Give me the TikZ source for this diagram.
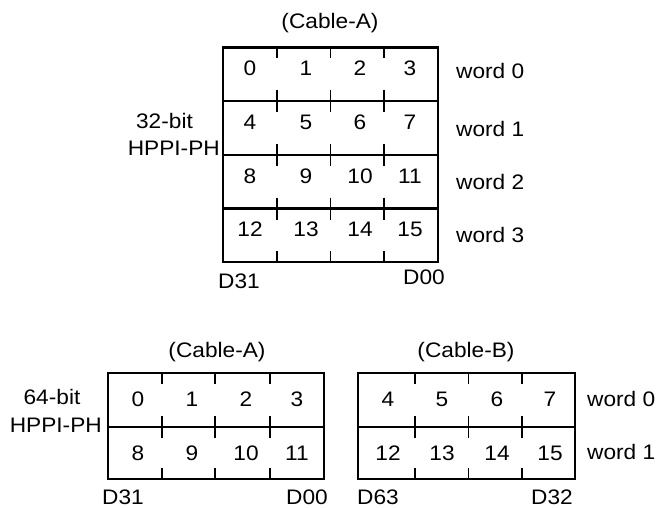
\documentclass[tikz,border=0pt]{standalone}
\usepackage{fontspec}
\setmainfont{Liberation Sans}[FakeStretch=1.08]
\begin{document}
\begin{tikzpicture}[x=1pt,y=-1pt,
  frame/.style={line width=2.2pt},
  tickmark/.style={line width=1.8pt},
  lbl/.style={inner sep=0pt, font=\fontsize{21}{25}\selectfont},
]
\useasboundingbox (0,0) rectangle (658,508);

% ---------- top: 32-bit ----------
\draw[frame] (223,47.5) rectangle (438,262);
\foreach \y in {101,155,208.5} \draw[frame] (223,\y) -- (438,\y);
\foreach \x in {277,330.5,384} {
  \draw[tickmark] (\x,47.5) -- ++(0,11);
  \foreach \y in {101,155,208.5} \draw[tickmark] (\x,\y-11) -- (\x,\y+11);
  \draw[tickmark] (\x,262) -- ++(0,-11);
}
\foreach \r/\yy in {0/68,1/122,2/176,3/229}
  \foreach \c/\xx in {0/250,1/306,2/360,3/410} {
    \pgfmathtruncatemacro\n{4*\r+\c}
    \node[lbl] (t\n) at (\xx,\yy) {\n};
  }
\node[lbl] (cabA1) at (330,23) {(Cable-A)};
\foreach \r/\yy in {0/71,1/129,2/182,3/235}
  \node[lbl,anchor=west] (tw\r) at (456,\yy) {word \r};
\node[lbl] (bits32) at (164.5,121) {32-bit};
\node[lbl,anchor=east] (hppi1) at (220,148) {HPPI-PH};
\node[lbl,anchor=west] (tD31) at (218,281) {D31};
\node[lbl,anchor=east] (tD00) at (445,277) {D00};

% ---------- bottom: 64-bit ----------
\draw[frame] (108,373) rectangle (324,479);
\draw[frame] (108,427) -- (324,427);
\draw[frame] (358,373) rectangle (575,479);
\draw[frame] (358,427) -- (575,427);
\foreach \x in {162,215,270,415,468.5,522} {
  \draw[tickmark] (\x,373) -- ++(0,11);
  \draw[tickmark] (\x,416) -- (\x,438);
  \draw[tickmark] (\x,479) -- ++(0,-11);
}
\foreach \r/\yy in {0/399,1/453}
  \foreach \c/\xx in {0/138,1/192,2/246,3/297} {
    \pgfmathtruncatemacro\n{8*\r+\c}
    \node[lbl] (a\n) at (\xx,\yy) {\n};
  }
\foreach \r/\yy in {0/399,1/453}
  \foreach \c/\xx in {0/388,1/442,2/497,3/550} {
    \pgfmathtruncatemacro\n{8*\r+\c+4}
    \node[lbl] (b\n) at (\xx,\yy) {\n};
  }
\node[lbl] (cabA2) at (217,352) {(Cable-A)};
\node[lbl] (cabB2) at (466,352) {(Cable-B)};
\node[lbl] (bits64) at (52,397) {64-bit};
\node[lbl,anchor=east] (hppi2) at (102,425) {HPPI-PH};
\node[lbl,anchor=west] (bw0) at (587,399) {word 0};
\node[lbl,anchor=west] (bw1) at (587,452) {word 1};
\node[lbl,anchor=west] (bD31) at (102,497.5) {D31};
\node[lbl,anchor=east] (bD00) at (328,497.5) {D00};
\node[lbl,anchor=west] (bD63) at (357,497.5) {D63};
\node[lbl,anchor=east] (bD32) at (573,497.5) {D32};
\end{tikzpicture}
\end{document}
